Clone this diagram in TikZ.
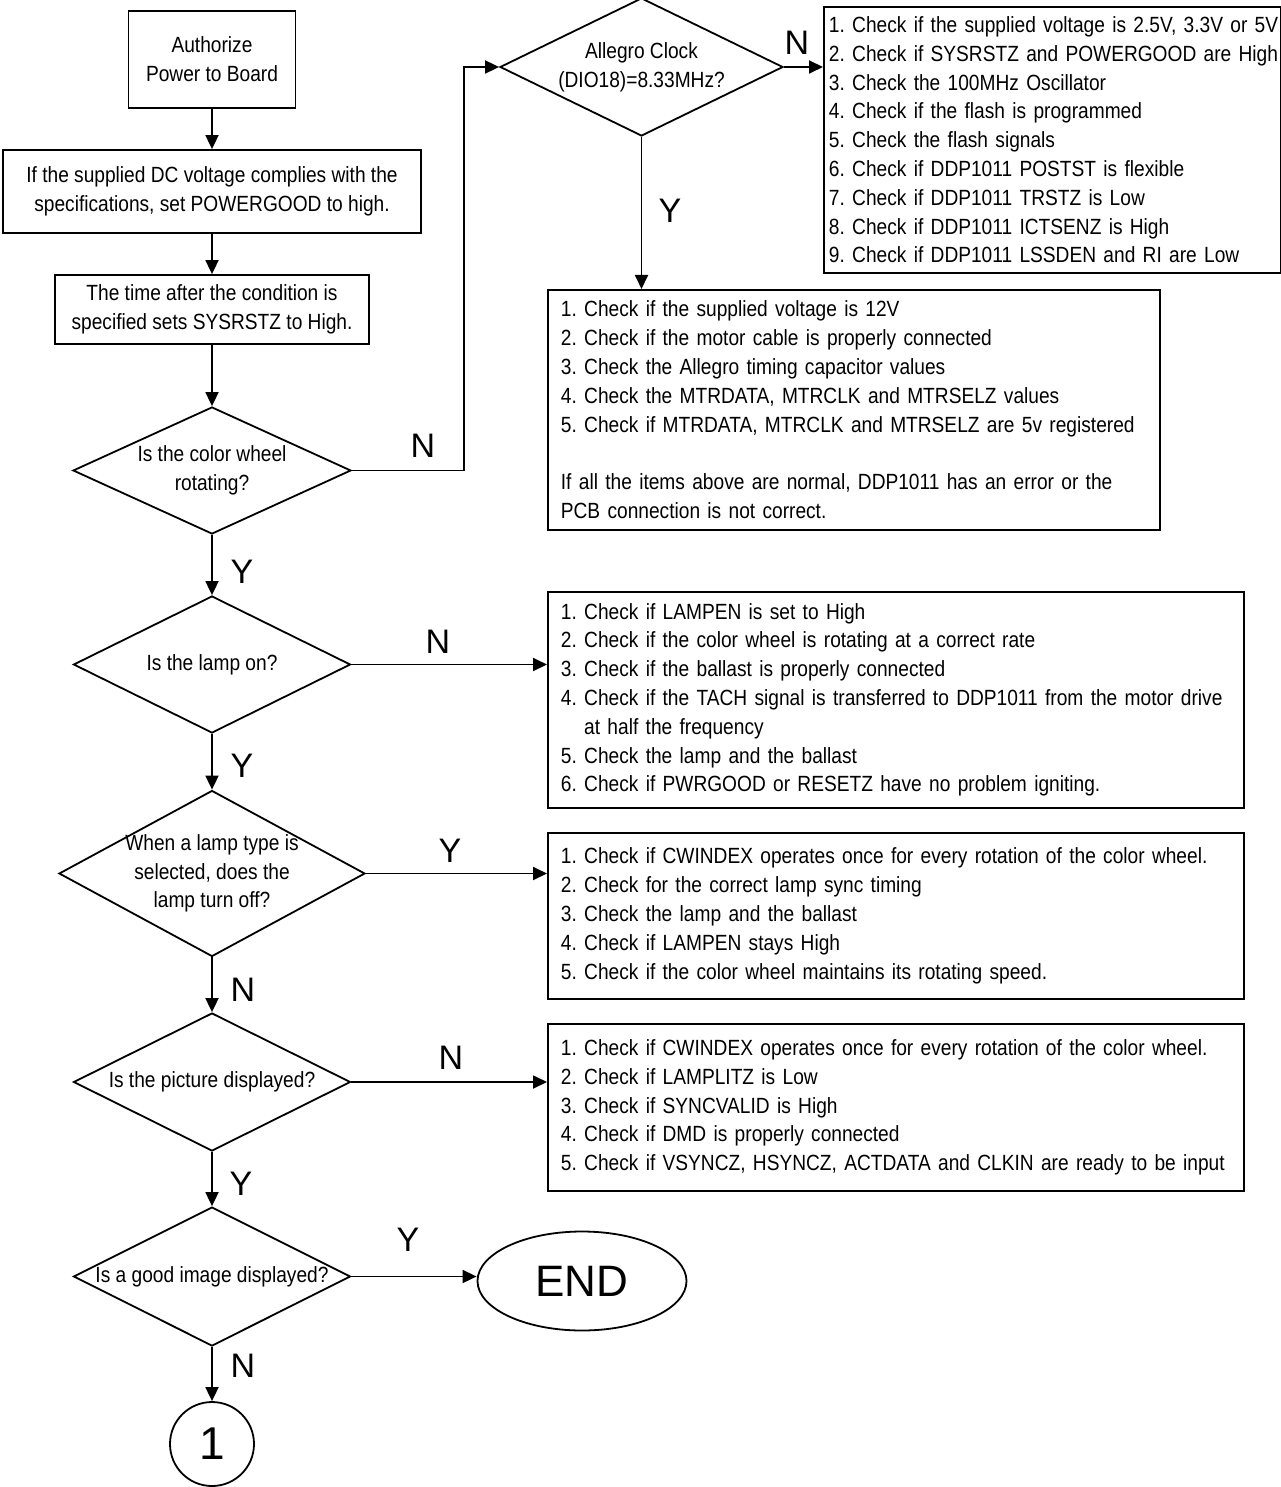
\documentclass[tikz,border=0pt]{standalone}
\usepackage{fontspec}
\setmainfont{Liberation Sans}[FakeStretch=0.87]
\newfontfamily\ynfont{Liberation Sans}
\usetikzlibrary{arrows.meta,shapes.geometric,calc}

\frenchspacing
\hyphenpenalty=10000
\newcommand{\bodyfont}{\fontsize{22}{28.8}\selectfont}

\tikzset{
  flowline/.style={line width=1.8pt, -{Triangle[length=14pt,width=13pt]}},
  procbox/.style={draw, line width=1.8pt, font=\bodyfont, align=center, inner sep=0pt},
  decision/.style={draw, diamond, line width=1.8pt, inner sep=0pt},
  qtext/.style={font=\bodyfont, align=center, inner sep=0pt},
  checklist/.style={draw, line width=1.8pt, font=\bodyfont, align=left, anchor=north west, inner ysep=0pt},
  ynlabel/.style={font=\ynfont\fontsize{34}{34}\selectfont, inner sep=0pt}
}

\begin{document}
\begin{tikzpicture}[x=1pt,y=-1pt]
  \useasboundingbox (0,0) rectangle (1281,1487);

  % Main column
  \node[procbox, minimum width=167pt, minimum height=97pt] (auth) at (212,59.5) {Authorize\\Power to Board};
  \node[procbox, minimum width=418pt, minimum height=83pt] (pgood) at (212,191.5) {If the supplied DC voltage complies with the\\specifications, set POWERGOOD to high.};
  \node[procbox, minimum width=314pt, minimum height=69pt] (sysrst) at (212,309.5) {The time after the condition is\\specified sets SYSRSTZ to High.};

  % Decisions
  \node[decision, minimum width=278pt, minimum height=127pt, label={[qtext]center:{Is the color wheel\\rotating?}}] (wheel) at (212,470.5) {};
  \node[decision, minimum width=277pt, minimum height=137pt, label={[qtext]center:{Is the lamp on?}}] (lampon) at (212,664.5) {};
  \node[decision, minimum width=306pt, minimum height=166pt, label={[qtext]center:{When a lamp type is\\selected, does the\\lamp turn off?}}] (lamptype) at (212,873.5) {};
  \node[decision, minimum width=277pt, minimum height=138pt, label={[qtext]center:{Is the picture displayed?}}] (picture) at (212,1082) {};
  \node[decision, minimum width=277pt, minimum height=139pt, label={[qtext]center:{Is a good image displayed?}}] (goodimg) at (212,1276.5) {};
  \node[decision, minimum width=283pt, minimum height=138pt, label={[qtext]center:{Allegro Clock\\(DIO18)=8.33MHz?}}] (allegro) at (641.5,67) {};

  % Ends
  \node[draw, ellipse, line width=1.8pt, minimum width=209pt, minimum height=99pt, inner sep=0pt, font=\ynfont\fontsize{44}{44}\selectfont] (endnode) at (582,1281) {END};
  \node[draw, circle, line width=1.8pt, minimum size=84pt, inner sep=0pt, font=\ynfont\fontsize{46}{46}\selectfont] (conn) at (212,1444) {1};

  % Check lists
  \node[checklist, minimum width=456.5pt, minimum height=266pt, text width=446.5pt, inner xsep=5pt] (chkclock) at (823,6) {%
    \mbox{1. Check if the supplied voltage is 2.5V, 3.3V or 5V}\\
    \mbox{2. Check if SYSRSTZ and POWERGOOD are High}\\
    3. Check the 100MHz Oscillator\\
    4. Check if the flash is programmed\\
    5. Check the flash signals\\
    6. Check if DDP1011 POSTST is flexible\\
    7. Check if DDP1011 TRSTZ is Low\\
    8. Check if DDP1011 ICTSENZ is High\\
    9. Check if DDP1011 LSSDEN and RI are Low};
  \node[checklist, minimum width=612pt, minimum height=240pt, text width=586pt, inner xsep=13pt] (chkmotor) at (547,289) {%
    1. Check if the supplied voltage is 12V\\
    2. Check if the motor cable is properly connected\\
    3. Check the Allegro timing capacitor values\\
    4. Check the MTRDATA, MTRCLK and MTRSELZ values\\
    5. Check if MTRDATA, MTRCLK and MTRSELZ are 5v registered\\[28.8pt]
    If all the items above are normal, DDP1011 has an error or the\\
    PCB connection is not correct.};
  \node[checklist, minimum width=696pt, minimum height=216pt, text width=670pt, inner xsep=13pt] (chklamp) at (547,591) {%
    1. Check if LAMPEN is set to High\\
    2. Check if the color wheel is rotating at a correct rate\\
    3. Check if the ballast is properly connected\\
    \mbox{4. Check if the TACH signal is transferred to DDP1011 from the motor drive}\\
    \phantom{4. }at half the frequency\\
    5. Check the lamp and the ballast\\
    6. Check if PWRGOOD or RESETZ have no problem igniting.};
  \node[checklist, minimum width=696pt, minimum height=166pt, text width=670pt, inner xsep=13pt] (chksync) at (547,832) {%
    1. Check if CWINDEX operates once for every rotation of the color wheel.\\
    2. Check for the correct lamp sync timing\\
    3. Check the lamp and the ballast\\
    4. Check if LAMPEN stays High\\
    5. Check if the color wheel maintains its rotating speed.};
  \node[checklist, minimum width=696pt, minimum height=167pt, text width=670pt, inner xsep=13pt] (chkpict) at (547,1023) {%
    1. Check if CWINDEX operates once for every rotation of the color wheel.\\
    2. Check if LAMPLITZ is Low\\
    3. Check if SYNCVALID is High\\
    4. Check if DMD is properly connected\\
    \mbox{5. Check if VSYNCZ, HSYNCZ, ACTDATA and CLKIN are ready to be input}};

  % Connectors
  \draw[flowline] (auth) -- (pgood);
  \draw[flowline] (pgood) -- (sysrst);
  \draw[flowline] (sysrst.south) -- (wheel.north);
  \draw[flowline] (wheel.south) -- (lampon.north);
  \draw[flowline] (lampon.south) -- (lamptype.north);
  \draw[flowline] (lamptype.south) -- (picture.north);
  \draw[flowline] (picture.south) -- (goodimg.north);
  \draw[flowline] (goodimg.south) -- (conn.north);
  \draw[flowline] (wheel.east) -- ++(112,0) |- (allegro.west);
  \draw[flowline] (allegro.east) -- (allegro.east -| chkclock.west);
  \draw[flowline] (allegro.south) -- (allegro.south |- chkmotor.north);
  \draw[flowline] (lampon.east) -- (lampon.east -| chklamp.west);
  \draw[flowline] (lamptype.east) -- (lamptype.east -| chksync.west);
  \draw[flowline] (picture.east) -- (picture.east -| chkpict.west);
  \draw[flowline] (goodimg.east) -- (goodimg.east -| endnode.west);

  % Y / N labels
  \node[ynlabel] (nclock) at (797,43) {N};
  \node[ynlabel] (yclock) at (670,211) {Y};
  \node[ynlabel] (nwheel) at (423,446) {N};
  \node[ynlabel] (ywheel) at (242,572) {Y};
  \node[ynlabel] (nlamp) at (438,642) {N};
  \node[ynlabel] (ylamp) at (242,766) {Y};
  \node[ynlabel] (ytype) at (450,851) {Y};
  \node[ynlabel] (ntype) at (243,990) {N};
  \node[ynlabel] (npict) at (451,1058) {N};
  \node[ynlabel] (ypict) at (241,1184) {Y};
  \node[ynlabel] (ygood) at (408,1240) {Y};
  \node[ynlabel] (ngood) at (243,1366) {N};
\end{tikzpicture}
\end{document}
